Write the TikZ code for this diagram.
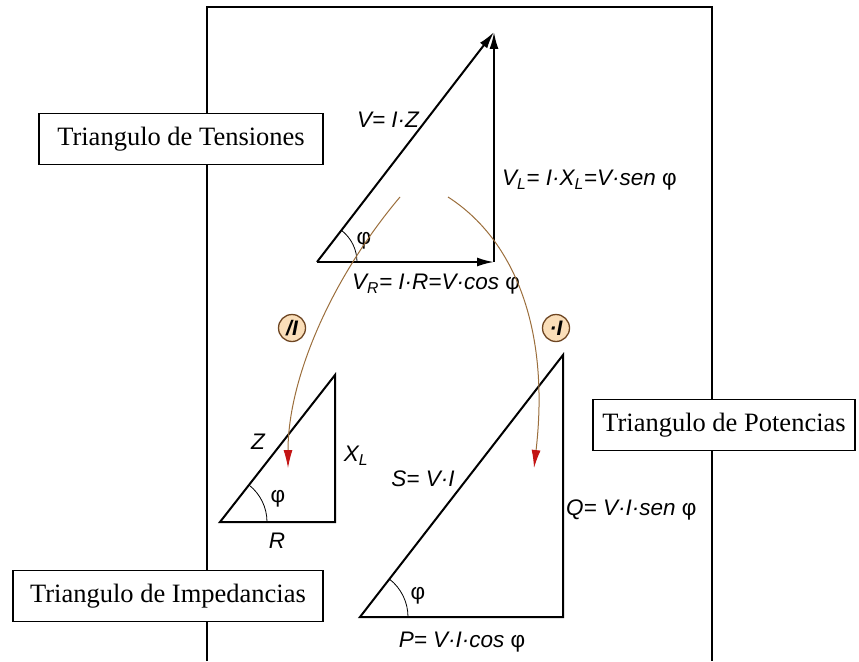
\documentclass[tikz,border=0pt]{standalone}
\usepackage{fontspec}
\setmainfont{Liberation Serif}
\newfontfamily\labelfont{Liberation Sans}
\usetikzlibrary{arrows.meta}
\definecolor{arcbrown}{RGB}{155,110,60}
\definecolor{arrowred}{RGB}{195,20,20}
\definecolor{ringfill}{RGB}{250,222,185}
\definecolor{ringdraw}{RGB}{110,70,35}

\begin{document}
\begin{tikzpicture}[
    x=1pt, y=-1pt,
    >=Latex,
    titlestyle/.style={rectangle, draw, fill=white, line width=1.1pt,
        font=\fontsize{26.5}{29}\selectfont, inner sep=0pt, minimum height=51pt},
    framestyle/.style={line width=1.1pt},
    sidestyle/.style={line width=2pt},
    vecstyle/.style={line width=2pt, -{Latex[length=17pt,width=9pt]}},
    eqstyle/.style={font=\labelfont\itshape\fontsize{22.5}{25}\selectfont, inner sep=1pt},
    anglestyle/.style={line width=0.8pt},
    phistyle/.style={font=\labelfont\fontsize{22.5}{25}\selectfont, inner sep=0pt},
    ringstyle/.style={circle, draw=ringdraw, fill=ringfill, line width=1.3pt,
        minimum size=27pt, inner sep=0pt, font=\labelfont\bfseries\itshape\fontsize{21}{22}\selectfont},
    arcstyle/.style={draw=arcbrown, line width=1pt, -{Latex[length=18pt,width=9pt,color=arrowred]}}
]
\useasboundingbox (0,0) rectangle (859,661);

\draw[framestyle] (207,661) -- (207,7) -- (712,7) -- (712,661);

\node[titlestyle, minimum width=284pt] (tens) at (181,139) {Triangulo de Tensiones};
\node[titlestyle, minimum width=262pt] (pot) at (724,425) {Triangulo de Potencias};
\node[titlestyle, minimum width=310pt] (imp) at (168,596) {Triangulo de Impedancias};

\coordinate (vo) at (317,262);
\coordinate (vr) at (494,262);
\coordinate (vt) at (494,32);
\draw[vecstyle] (vo) -- (vt);
\draw[vecstyle] (vo) -- (vr);
\draw[vecstyle] (vr) -- (vt);
\draw[anglestyle] ([shift={(40,0)}]vo) arc[start angle=0, end angle=-52, radius=40];
\node[phistyle] (vphi) at (364,241) {φ};
\node[eqstyle] (vz) at (388,120) {V= I·Z};
\node[eqstyle, anchor=west] (vl) at (501,180) {V\textsubscript{L}= I·X\textsubscript{L}=V·sen {\upshape φ}};
\node[eqstyle] (vrl) at (436,284) {V\textsubscript{R}= I·R=V·cos {\upshape φ}};

\coordinate (io) at (220,522);
\coordinate (ir) at (335,522);
\coordinate (it) at (335,375);
\draw[sidestyle] (io) -- (ir) -- (it) -- cycle;
\draw[anglestyle] ([shift={(47,0)}]io) arc[start angle=0, end angle=-52, radius=47];
\node[phistyle] (iphi) at (278,499) {φ};
\node[eqstyle] (iz) at (258,442) {Z};
\node[eqstyle] (ixl) at (356,456) {X\textsubscript{L}};
\node[eqstyle] (irl) at (277,541) {R};

\coordinate (po) at (360,617);
\coordinate (pr) at (563,617);
\coordinate (pt) at (563,355);
\draw[sidestyle] (po) -- (pr) -- (pt) -- cycle;
\draw[anglestyle] ([shift={(48,0)}]po) arc[start angle=0, end angle=-52, radius=48];
\node[phistyle] (pphi) at (418,596) {φ};
\node[eqstyle] (ps) at (423,479) {S= V·I};
\node[eqstyle, anchor=west] (pq) at (565,510) {Q= V·I·sen {\upshape φ}};
\node[eqstyle] (pp) at (462,642) {P= V·I·cos {\upshape φ}};

\coordinate (d1) at (400,197);
\coordinate (d2) at (288,468);
\draw[arcstyle] (d1) .. controls (330,280) and (288,380) .. (d2);
\coordinate (m1) at (448,197);
\coordinate (m2) at (534,468);
\draw[arcstyle] (m1) .. controls (515,240) and (550,330) .. (m2);

\node[ringstyle] (div) at (292,328) {/I};
\node[ringstyle] (mul) at (556,328) {·I};

\end{tikzpicture}
\end{document}
